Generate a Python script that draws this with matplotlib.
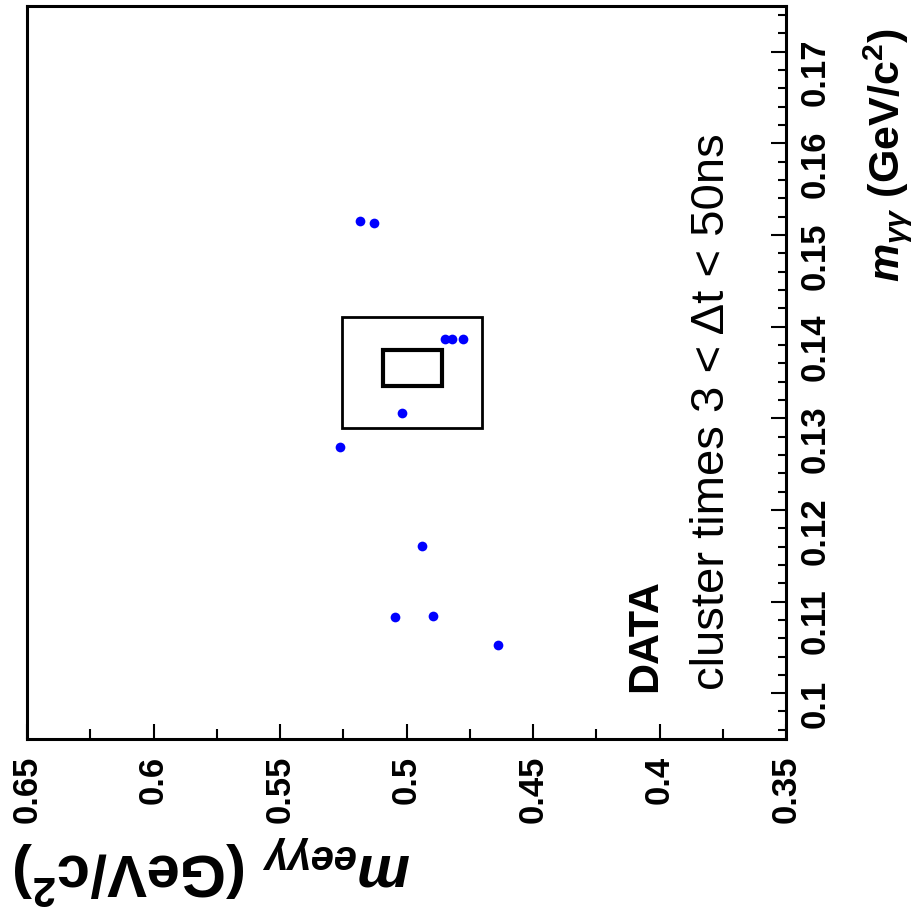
import matplotlib
matplotlib.use('Agg')
import matplotlib.pyplot as plt
from matplotlib.patches import Rectangle

plt.rcParams['font.family'] = ['Liberation Sans', 'DejaVu Sans']
plt.rcParams['mathtext.fontset'] = 'custom'
plt.rcParams['mathtext.it'] = 'Liberation Sans:bold:italic'
plt.rcParams['mathtext.rm'] = 'Liberation Sans:bold'
plt.rcParams['mathtext.bf'] = 'Liberation Sans:bold'

# data points
m_eegg = [0.5182, 0.5130, 0.4846, 0.4822, 0.4775, 0.5019, 0.5261,
          0.4938, 0.5047, 0.4896, 0.4640]
m_gg = [0.1515, 0.1513, 0.1387, 0.1387, 0.1387, 0.1306, 0.1269,
        0.1161, 0.1083, 0.1084, 0.1053]

# signal boxes (m_eegg range, m_gg range)
outer_box = [(0.4701, 0.5255), (0.1289, 0.1411)]
inner_box = [(0.4859, 0.5094), (0.1335, 0.1375)]

x_ticks = [0.65, 0.6, 0.55, 0.5, 0.45, 0.4, 0.35]
x_ticklabels = ['0.65', '0.6', '0.55', '0.5', '0.45', '0.4', '0.35']
y_ticks = [0.10, 0.11, 0.12, 0.13, 0.14, 0.15, 0.16, 0.17]
y_ticklabels = ['0.1', '0.11', '0.12', '0.13', '0.14', '0.15', '0.16', '0.17']

fig = plt.figure(figsize=(9.16, 9.22), dpi=100)
ax = fig.add_axes([0.0295, 0.1985, 0.8286, 0.795])

ax.plot(m_eegg, m_gg, 'o', color='#0000ff', markersize=7, markeredgewidth=0)

for box, lw in [(outer_box, 2.0), (inner_box, 3.0)]:
    (x0, x1), (y0, y1) = box
    ax.add_patch(Rectangle((x0, y0), x1 - x0, y1 - y0, fill=False,
                           edgecolor='black', linewidth=lw))

ax.set_xlim(0.65, 0.35)
ax.set_ylim(0.095, 0.175)

ax.set_xticks(x_ticks)
ax.set_xticklabels(x_ticklabels, rotation=90, fontsize=25, fontweight='bold')
ax.set_xticks([0.625, 0.575, 0.525, 0.475, 0.425, 0.375], minor=True)
ax.yaxis.tick_right()
ax.set_yticks(y_ticks)
ax.set_yticklabels(y_ticklabels, rotation=90, fontsize=25, fontweight='bold')
ax.set_yticks([0.096 + 0.002 * i for i in range(40) if (0.096 + 0.002 * i) < 0.175], minor=True)

ax.tick_params(which='both', direction='in', top=False, left=False, width=1.5)
ax.tick_params(axis='x', which='major', length=11, pad=12)
ax.tick_params(axis='x', which='minor', length=7)
ax.tick_params(axis='y', which='major', length=11, pad=9)
ax.tick_params(axis='y', which='minor', length=6)
for s in ax.spines.values():
    s.set_linewidth(2.2)

fig.text(645 / 916, 1 - 692 / 922, 'DATA', rotation=90, ha='center', va='bottom',
         fontsize=31, fontweight='bold')
fig.text(712 / 916, 1 - 690 / 922, 'cluster times 3 < \u0394t < 50ns', rotation=90,
         ha='center', va='bottom', fontsize=34)

fig.text(212 / 916, 1 - 870 / 922, r'$m_{ee\gamma\gamma}$ (GeV/c$^{2}$)', rotation=180,
         ha='center', va='center', fontsize=43, fontweight='bold')
fig.text(887 / 916, 1 - 155 / 922, r'$m_{\gamma\gamma}$ (GeV/c$^{2}$)', rotation=90,
         ha='center', va='center', fontsize=31, fontweight='bold')

fig.savefig('out.png', dpi=100)
